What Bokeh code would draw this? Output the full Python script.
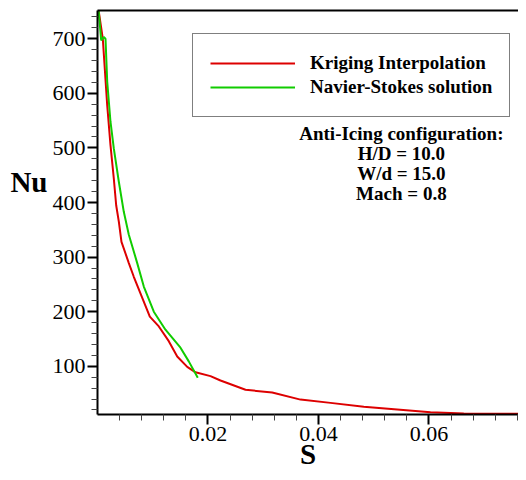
from bokeh.plotting import figure
from bokeh.models import (Range1d, FixedTicker, Label, Legend, LegendItem, LinearAxis)
from bokeh.embed import file_html
from bokeh.resources import INLINE

# ---- data ----
kriging_s = [0.0002, 0.00096, 0.00176, 0.00235, 0.00295, 0.00338, 0.00386, 0.00434,
             0.00567, 0.00657, 0.00947, 0.0111, 0.0129, 0.01443, 0.01624, 0.01774,
             0.02045, 0.02226, 0.02679, 0.03162, 0.03674, 0.04217, 0.0482, 0.05424,
             0.06027, 0.0663, 0.0776]
kriging_nu = [752, 700, 578, 505, 444, 395, 365, 328,
              289, 264, 191, 173, 146, 118, 99, 89,
              82, 74, 57, 52, 39, 33, 26, 21,
              16, 13.5, 13]

ns_s = [0.0002, 0.00067, 0.00114, 0.00145, 0.00176, 0.00235, 0.00295, 0.00386,
        0.00476, 0.00567, 0.00719, 0.00838, 0.01019, 0.0123, 0.01502, 0.01652, 0.01815]
ns_nu = [752, 697, 703, 700, 621, 548, 499, 438,
         383, 341, 289, 246, 200, 167, 134, 109, 79]

x_major = [0.02, 0.04, 0.06]
x_minor = [round(0.004 * i, 3) for i in range(1, 20) if i % 5 != 0]
y_major = [100, 200, 300, 400, 500, 600, 700]
y_minor = [20 * i for i in range(1, 38) if i % 5 != 0]

legend_labels = ["Kriging Interpolation", "Navier-Stokes solution"]
note_lines = ["Anti-Icing configuration:", "H/D = 10.0", "W/d = 15.0", "Mach = 0.8"]

RED = "#dd0000"
GREEN = "#11cc00"
SERIF = "Liberation Serif"

p = figure(width=518, height=472, output_backend="svg", toolbar_location=None,
           x_range=Range1d(0, 0.0762), y_range=Range1d(11.7, 751.7),
           min_border_left=97, min_border_right=0, min_border_top=10,
           min_border_bottom=57)
p.outline_line_color = None
p.grid.visible = False
p.background_fill_color = "white"

r1 = p.line(kriging_s, kriging_nu, line_color=RED, line_width=2)
r2 = p.line(ns_s, ns_nu, line_color=GREEN, line_width=2)

for ax in (p.xaxis[0], p.yaxis[0]):
    ax.axis_line_width = 2
    ax.axis_line_color = "black"
    ax.major_tick_line_width = 2
    ax.major_tick_line_color = "black"
    ax.major_tick_out = 10
    ax.major_tick_in = 0
    ax.minor_tick_line_color = "#444444"
    ax.minor_tick_line_width = 1
    ax.minor_tick_out = 6
    ax.minor_tick_in = 0
    ax.major_label_text_font = SERIF
    ax.major_label_text_font_size = "22px"
    ax.major_label_text_color = "black"
    ax.major_label_standoff = 2
    ax.axis_label_text_font = SERIF
    ax.axis_label_text_font_style = "bold"
    ax.axis_label_text_font_size = "29px"
    ax.axis_label_text_color = "black"

p.xaxis[0].ticker = FixedTicker(ticks=x_major, minor_ticks=x_minor)
p.yaxis[0].ticker = FixedTicker(ticks=y_major, minor_ticks=y_minor)

p.xaxis[0].axis_label = "S"
p.xaxis[0].axis_label_standoff = -6
p.yaxis[0].axis_label = "Nu\n"
p.yaxis[0].axis_label_standoff = 2
p.yaxis[0].axis_label_text_line_height = 1.9
try:
    p.yaxis[0].axis_label_orientation = "horizontal"
except Exception:
    pass

# top frame line as an empty axis
top = LinearAxis(ticker=FixedTicker(ticks=[]), major_label_text_font_size="0px",
                 major_tick_out=0, minor_tick_out=0, axis_line_width=2,
                 axis_line_color="black")
p.add_layout(top, "above")

# annotation block
for i, line in enumerate(note_lines):
    p.add_layout(Label(x=0.0550, y=526.4, y_offset=-20 * i, text=line, text_font=SERIF,
                       text_font_style="bold", text_font_size="19px", text_align="center",
                       text_baseline="middle", text_color="black"))

legend = Legend(items=[LegendItem(label=legend_labels[0], renderers=[r1]),
                       LegendItem(label=legend_labels[1], renderers=[r2])],
                location=(95, 297))
legend.label_text_font = SERIF
legend.label_text_font_style = "bold"
legend.label_text_font_size = "19px"
legend.label_text_color = "black"
legend.glyph_width = 85
legend.glyph_height = 24
legend.label_height = 24
legend.label_standoff = 15
legend.spacing = 0
legend.padding = 17
legend.margin = 0
legend.border_line_color = "black"
legend.border_line_width = 1
legend.background_fill_alpha = 1
p.add_layout(legend)

open("out.html", "w").write(file_html(p, INLINE))
